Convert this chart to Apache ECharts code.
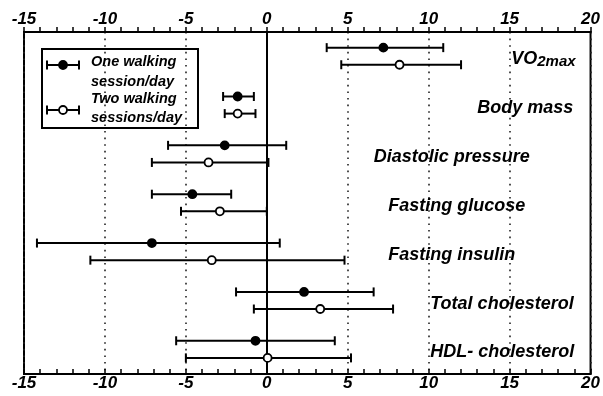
<!DOCTYPE html>
<html>
<head>
<meta charset="utf-8">
<script src="https://cdn.jsdelivr.net/npm/echarts@6/dist/echarts.min.js"></script>
<style>
html,body{margin:0;padding:0;background:#fff;}
#chart{width:603px;height:396px;}
</style>
</head>
<body>
<div id="chart"></div>
<script>
// ---- data (percent change) ----
var measures = ['VO2max', 'Body mass', 'Diastolic pressure', 'Fasting glucose', 'Fasting insulin', 'Total cholesterol', 'HDL- cholesterol'];
var oneMean = [7.2, -1.8, -2.6, -4.6, -7.1, 2.3, -0.7];
var oneLow  = [3.7, -2.7, -6.1, -7.1, -14.2, -1.9, -5.6];
var oneHigh = [10.9, -0.8, 1.2, -2.2, 0.8, 6.6, 4.2];
var twoMean = [8.2, -1.8, -3.6, -2.9, -3.4, 3.3, 0.05];
var twoLow  = [4.6, -2.6, -7.1, -5.3, -10.9, -0.8, -5.0];
var twoHigh = [12.0, -0.7, 0.1, 0.0, 4.8, 7.8, 5.2];
var xTicks = [-15, -10, -5, 0, 5, 10, 15, 20];
var seriesNames = ['One walking\nsession/day', 'Two walking\nsessions/day'];

// ---- layout (not data) ----
var labelX = [15.1, 13.0, 6.6, 7.5, 7.5, 10.1, 10.1];
var ONE_OFF = 0.32, TWO_OFF = 0.67, LABEL_OFF = 0.56;
var FONT = '"Liberation Sans", Arial, Helvetica, sans-serif';

function rows(mean, low, high, off) {
  return measures.map(function (m, i) { return [low[i], high[i], mean[i], i + off]; });
}

function makeRender(filled) {
  return function (params, api) {
    var y = api.value(3);
    var pL = api.coord([api.value(0), y]);
    var pH = api.coord([api.value(1), y]);
    var pM = api.coord([api.value(2), y]);
    var cap = 4.5, r = 4;
    var st = { stroke: '#000', lineWidth: 2 };
    return {
      type: 'group',
      children: [
        { type: 'line', shape: { x1: pL[0], y1: pL[1], x2: pH[0], y2: pH[1] }, style: st },
        { type: 'line', shape: { x1: pL[0], y1: pL[1] - cap, x2: pL[0], y2: pL[1] + cap }, style: st },
        { type: 'line', shape: { x1: pH[0], y1: pH[1] - cap, x2: pH[0], y2: pH[1] + cap }, style: st },
        { type: 'circle', shape: { cx: pM[0], cy: pM[1], r: r },
          style: { fill: filled ? '#000' : '#fff', stroke: '#000', lineWidth: 1.8 } }
      ]
    };
  };
}

var axisCommon = {
  type: 'value', min: -15, max: 20, interval: 5,
  axisLine: { show: true, onZero: false, lineStyle: { color: '#000', width: 2 } },
  axisLabel: { color: '#000', fontSize: 17, fontStyle: 'italic', fontWeight: 'bold', fontFamily: FONT,
    formatter: function (v) { return xTicks.indexOf(v) >= 0 ? String(v) : ''; } },
  minorTick: { show: true, splitNumber: 5, length: 5, lineStyle: { color: '#000', width: 1.5 } }
};

var chart = echarts.init(document.getElementById('chart'), null, { renderer: 'canvas' });

var labelData = measures.map(function (m, i) { return { name: m, value: [labelX[i], i + LABEL_OFF] }; });

chart.setOption({
  animation: false,
  backgroundColor: '#fff',
  grid: { left: 24, right: 12, top: 32, bottom: 22, show: true, borderColor: '#000', borderWidth: 2, backgroundColor: 'transparent' },
  xAxis: [
    Object.assign({}, axisCommon, {
      position: 'bottom',
      axisTick: { show: true, inside: true, length: 5, lineStyle: { color: '#000', width: 1.5 } },
      axisLabel: Object.assign({}, axisCommon.axisLabel, { margin: 1 }),
      splitLine: { show: true, lineStyle: { color: '#222', width: 1.6, type: [1.6, 5] } }
    }),
    Object.assign({}, axisCommon, {
      position: 'top',
      axisTick: { show: true, inside: false, length: 5, lineStyle: { color: '#000', width: 1.5 } },
      axisLabel: Object.assign({}, axisCommon.axisLabel, { margin: 4 }),
      splitLine: { show: false }
    })
  ],
  yAxis: { type: 'value', min: 0, max: 7, inverse: true, show: false },
  series: [
    {
      name: seriesNames[0], type: 'custom', renderItem: makeRender(true),
      data: rows(oneMean, oneLow, oneHigh, ONE_OFF), z: 5,
      markLine: {
        silent: true, symbol: 'none', label: { show: false },
        lineStyle: { color: '#000', width: 2, type: 'solid' },
        data: [{ xAxis: 0 }]
      }
    },
    {
      name: seriesNames[1], type: 'custom', renderItem: makeRender(false),
      data: rows(twoMean, twoLow, twoHigh, TWO_OFF), z: 5
    },
    {
      type: 'scatter', symbolSize: 0, data: labelData, z: 6,
      itemStyle: { opacity: 1, color: '#000' },
      label: {
        show: true, position: 'right', distance: 0, color: '#000', opacity: 1,
        fontFamily: FONT, fontStyle: 'italic', fontWeight: 'bold', fontSize: 18,
        formatter: function (p) {
          if (p.name === 'VO2max') return '{a|VO}{b|2max}';
          return p.name;
        },
        rich: {
          a: { fontFamily: FONT, fontStyle: 'italic', fontWeight: 'bold', fontSize: 18, color: '#000' },
          b: { fontFamily: FONT, fontStyle: 'italic', fontWeight: 'bold', fontSize: 15, color: '#000', padding: [5, 0, 0, 0] }
        }
      }
    }
  ],
  graphic: [
    { type: 'rect', shape: { x: 42, y: 49, width: 156, height: 79 },
      style: { fill: 'transparent', stroke: '#000', lineWidth: 2 }, z: 10 },
    // legend symbol 1
    { type: 'line', shape: { x1: 47, y1: 65, x2: 79, y2: 65 }, style: { stroke: '#000', lineWidth: 2 }, z: 10 },
    { type: 'line', shape: { x1: 47, y1: 60.5, x2: 47, y2: 69.5 }, style: { stroke: '#000', lineWidth: 2 }, z: 10 },
    { type: 'line', shape: { x1: 79, y1: 60.5, x2: 79, y2: 69.5 }, style: { stroke: '#000', lineWidth: 2 }, z: 10 },
    { type: 'circle', shape: { cx: 63, cy: 65, r: 4 }, style: { fill: '#000', stroke: '#000', lineWidth: 1.8 }, z: 11 },
    // legend symbol 2
    { type: 'line', shape: { x1: 47, y1: 110, x2: 79, y2: 110 }, style: { stroke: '#000', lineWidth: 2 }, z: 10 },
    { type: 'line', shape: { x1: 47, y1: 105.5, x2: 47, y2: 114.5 }, style: { stroke: '#000', lineWidth: 2 }, z: 10 },
    { type: 'line', shape: { x1: 79, y1: 105.5, x2: 79, y2: 114.5 }, style: { stroke: '#000', lineWidth: 2 }, z: 10 },
    { type: 'circle', shape: { cx: 63, cy: 110, r: 4 }, style: { fill: '#fff', stroke: '#000', lineWidth: 1.8 }, z: 11 },
    { type: 'text', x: 91, y: 71.5, z: 11,
      style: { text: seriesNames[0], font: 'italic bold 14.5px ' + FONT, fill: '#000', lineHeight: 20, verticalAlign: 'middle', align: 'left' } },
    { type: 'text', x: 91, y: 108.5, z: 11,
      style: { text: seriesNames[1], font: 'italic bold 14.5px ' + FONT, fill: '#000', lineHeight: 19, verticalAlign: 'middle', align: 'left' } }
  ]
});
</script>
</body>
</html>
